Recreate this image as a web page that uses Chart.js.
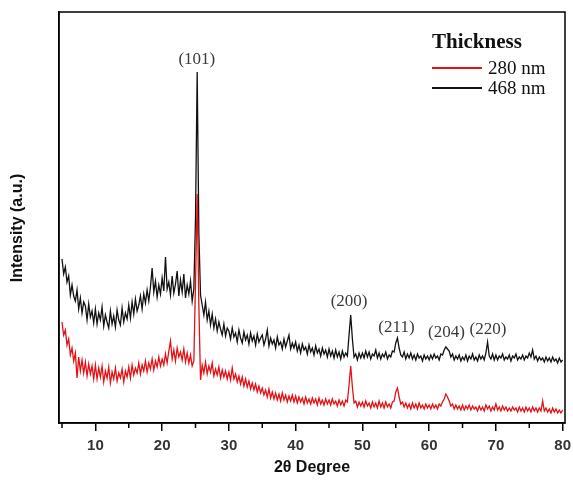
<!DOCTYPE html>
<html>
<head>
<meta charset="utf-8">
<script src="https://cdn.jsdelivr.net/npm/chart.js@4.4.1/dist/chart.umd.min.js"></script>
<style>
  body { margin: 0; background: #fff; }
  #xrd { display: block; }
</style>
</head>
<body>
<canvas id="xrd" width="573" height="483"></canvas>
<script>
// XRD scan, 5 to 80 deg, one reading every 0.25 deg (20 per row = 5 deg)
const scanStart = 5;
const scanStep = 0.25;

const series = ["280 nm", "468 nm"];
const seriesColors = ["rgb(228,16,20)", "#111"];

// 280 nm film
const red = [
  101, 88, 93, 78, 84, 68, 75, 62, 70, 45, 66, 52, 63, 50, 61, 47, 59, 49, 57, 44,
  58, 44, 55, 46, 57, 41, 52, 45, 56, 40, 51, 44, 55, 42, 50, 45, 54, 41, 52, 46,
  56, 45, 58, 48, 55, 50, 60, 49, 58, 52, 62, 51, 60, 54, 64, 53, 62, 56, 66, 57,
  64, 58, 69, 60, 72, 82, 64, 73, 62, 75, 66, 71, 63, 74, 61, 70, 60, 68, 57, 62,
  140, 229, 118, 43, 58, 50, 61, 49, 57, 51, 60, 47, 54, 48, 56, 45, 53, 46, 52, 44,
  51, 43, 55, 44, 49, 41, 47, 39, 46, 37, 44, 36, 42, 34, 40, 33, 39, 31, 37, 30,
  35, 28, 33, 26, 34, 25, 31, 24, 30, 23, 29, 22, 30, 23, 28, 21, 27, 22, 28, 21,
  27, 20, 26, 21, 25, 19, 26, 20, 24, 19, 25, 20, 24, 18, 25, 19, 23, 18, 24, 19,
  23, 18, 24, 19, 22, 17, 23, 18, 22, 17, 23, 21, 38, 57, 36, 20, 22, 16, 21, 17,
  21, 16, 22, 17, 20, 15, 21, 16, 20, 15, 22, 16, 20, 15, 21, 16, 19, 15, 21, 22,
  31, 35, 26, 19, 21, 16, 20, 15, 19, 14, 20, 15, 19, 14, 20, 15, 18, 14, 19, 15,
  18, 14, 19, 15, 18, 14, 19, 17, 21, 24, 29, 26, 22, 17, 19, 14, 18, 14, 17, 13,
  18, 13, 17, 14, 18, 13, 17, 14, 16, 12, 17, 13, 16, 12, 18, 14, 17, 12, 16, 13,
  19, 13, 16, 12, 17, 13, 16, 12, 15, 12, 16, 13, 15, 11, 16, 12, 15, 11, 16, 12,
  15, 11, 16, 12, 15, 11, 15, 12, 22, 12, 15, 11, 14, 10, 15, 11, 14, 10, 13, 10,
  13
];

// 468 nm film
const black = [
  164, 149, 156, 141, 147, 128, 138, 127, 122, 133, 114, 125, 110, 121, 117, 103, 119, 106, 112, 100,
  114, 99, 110, 103, 116, 97, 108, 101, 95, 112, 99, 107, 96, 113, 103, 98, 115, 101, 110, 104,
  118, 105, 121, 109, 124, 112, 118, 127, 114, 129, 120, 133, 122, 136, 155, 131, 142, 126, 138, 129,
  145, 132, 166, 134, 141, 128, 147, 130, 139, 152, 127, 143, 131, 149, 125, 138, 129, 142, 122, 134,
  205, 351, 190, 128, 118, 108, 121, 103, 112, 98, 109, 95, 104, 92, 101, 94, 88, 99, 87, 95,
  92, 84, 95, 86, 90, 81, 93, 85, 80, 91, 83, 88, 79, 90, 82, 87, 78, 89, 81, 85,
  88, 78, 84, 93, 77, 85, 79, 83, 75, 86, 78, 81, 74, 84, 76, 82, 88, 74, 80, 75,
  81, 72, 78, 70, 79, 73, 76, 69, 78, 71, 75, 68, 77, 70, 74, 67, 75, 69, 73, 66,
  74, 67, 72, 65, 73, 66, 71, 64, 72, 66, 70, 67, 88, 108, 84, 66, 69, 63, 70, 65,
  70, 65, 72, 66, 71, 64, 69, 67, 73, 65, 70, 64, 69, 66, 71, 64, 68, 66, 72, 71,
  80, 85, 75, 68, 66, 71, 64, 69, 65, 70, 64, 68, 63, 69, 65, 67, 62, 68, 64, 67,
  63, 68, 64, 69, 65, 67, 63, 69, 68, 73, 76, 74, 72, 66, 69, 63, 67, 64, 68, 62,
  66, 63, 68, 62, 67, 64, 69, 63, 66, 62, 68, 64, 67, 63, 70, 81, 67, 64, 69, 63,
  68, 63, 67, 65, 69, 63, 66, 64, 68, 62, 67, 65, 69, 63, 66, 64, 68, 63, 67, 65,
  70, 66, 73, 64, 67, 62, 66, 63, 65, 61, 66, 62, 65, 61, 66, 62, 64, 60, 65, 61,
  63
];

const twoTheta = red.map((_, i) => scanStart + i * scanStep);

// peak indexing labels and where they sit (2theta, intensity)
const peakNames = ["(101)", "(200)", "(211)", "(204)", "(220)"];
const peakLabelAt = [[25.2, 363], [48.0, 121], [55.1, 95], [62.6, 90], [68.8, 93]];

const sans = "'Liberation Sans', Arial, sans-serif";
const serif = "'Liberation Serif', 'Times New Roman', serif";

const isMajor = v => v % 10 === 0;

const extras = {
  id: "extras",
  afterDraw(chart) {
    const { ctx, chartArea: a, scales } = chart;
    ctx.save();
    // frame
    ctx.strokeStyle = "#000";
    ctx.lineWidth = 1.5;
    ctx.strokeRect(a.left, a.top, a.right - a.left, a.bottom - a.top);

    // short minor ticks at the odd fives
    scales.x.ticks.forEach(t => {
      if (isMajor(t.value)) return;
      const x = scales.x.getPixelForValue(t.value);
      ctx.beginPath();
      ctx.moveTo(x, a.bottom);
      ctx.lineTo(x, a.bottom + 5);
      ctx.stroke();
    });

    // peak labels
    ctx.fillStyle = "#3a3a3a";
    ctx.font = "17px " + serif;
    ctx.textAlign = "center";
    ctx.textBaseline = "middle";
    peakNames.forEach((name, i) => {
      const [px, py] = peakLabelAt[i];
      ctx.fillText(name, scales.x.getPixelForValue(px), scales.y.getPixelForValue(py));
    });

    // legend
    ctx.textAlign = "left";
    ctx.fillStyle = "#111";
    ctx.font = "bold 21px " + serif;
    ctx.fillText("Thickness", a.right - 133, 43);
    ctx.font = "19px " + serif;
    series.forEach((name, i) => {
      const y = 68 + i * 20;
      ctx.strokeStyle = seriesColors[i];
      ctx.lineWidth = 2;
      ctx.beginPath();
      ctx.moveTo(a.right - 133, y);
      ctx.lineTo(a.right - 83, y);
      ctx.stroke();
      ctx.fillText(name, a.right - 77, y + 1);
    });

    // y title
    ctx.translate(18, 228);
    ctx.rotate(-Math.PI / 2);
    ctx.textAlign = "center";
    ctx.fillStyle = "#111";
    ctx.font = "bold 16px " + sans;
    ctx.fillText("Intensity (a.u.)", 0, 0);
    ctx.restore();
  }
};

new Chart(document.getElementById("xrd"), {
  type: "line",
  data: {
    datasets: series.map((name, i) => ({
      label: name,
      data: twoTheta.map((x, j) => ({ x: x, y: (i === 0 ? red : black)[j] })),
      borderColor: seriesColors[i],
      borderWidth: 1.3,
      pointRadius: 0,
      tension: 0
    }))
  },
  options: {
    responsive: false,
    animation: false,
    layout: { padding: { top: 12, right: 8, left: 0, bottom: 0 } },
    plugins: { legend: { display: false }, tooltip: { enabled: false } },
    scales: {
      x: {
        type: "linear",
        min: 4.55,
        max: 80.35,
        afterFit: s => {
          s.height = 60;
          s.paddingLeft = 0;
          s.paddingRight = 0;
        },
        border: { display: true, color: "#000", width: 1.5 },
        grid: {
          drawOnChartArea: false,
          drawTicks: true,
          tickLength: 8,
          color: "#000",
          tickColor: c => (isMajor(c.tick.value) ? "#000" : "rgba(0,0,0,0)"),
          lineWidth: 1.5
        },
        ticks: {
          stepSize: 5,
          includeBounds: false,
          autoSkip: false,
          maxRotation: 0,
          padding: 6,
          color: "#333",
          font: { family: sans, size: 15, weight: "bold" },
          callback: v => (isMajor(v) ? v : "")
        },
        title: {
          display: true,
          text: "2θ Degree",
          color: "#111",
          font: { family: sans, size: 16, weight: "bold" },
          padding: { top: 0, bottom: 6 }
        }
      },
      y: {
        min: 0,
        max: 411,
        afterFit: s => { s.width = 59; },
        ticks: { display: false },
        grid: { display: false },
        border: { display: true, color: "#000", width: 1.5 }
      }
    }
  },
  plugins: [extras]
});
</script>
</body>
</html>
